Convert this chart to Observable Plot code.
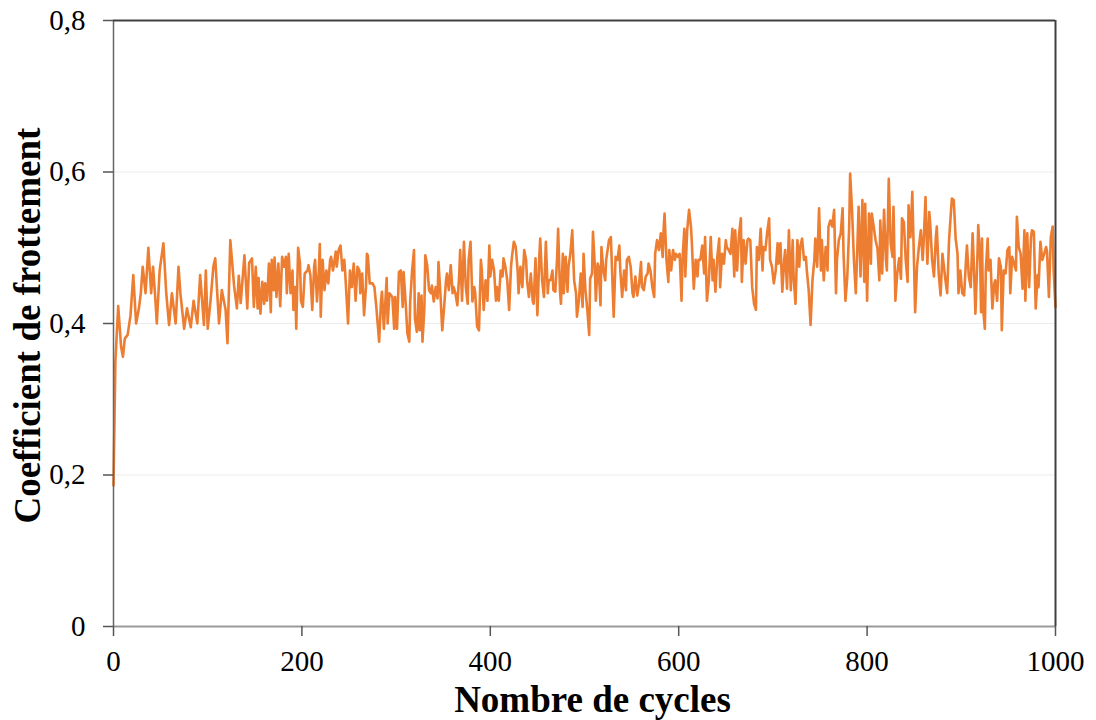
<!DOCTYPE html>
<html>
<head>
<meta charset="utf-8">
<script src="https://cdn.jsdelivr.net/npm/d3@7"></script>
<script src="https://cdn.jsdelivr.net/npm/@observablehq/plot@0.6"></script>
<style>
  html, body { margin: 0; padding: 0; background: #fff; }
  #chart svg { display: block; }
</style>
</head>
<body>
<div id="chart"></div>
<script>
// Data (cycle number, friction coefficient)
const cycles = [
  0,2,5,8,10,12,15,18,21,24,27,29,31,34,37,40,42,44,46,49,53,56,59,62,66,69,71,75,78,82,85,89,92,96,98,100,103,106,108,112,115,119,121,124,128,131,133,135,139,142,144,
  147,149,151,153,154,156,158,160,161,163,165,167,168,170,171,173,175,177,179,181,183,184,186,188,190,191,193,194,196,198,199,201,203,206,207,209,211,213,214,216,218,219,220,222,224,226,228,230,231,233,236,237,239,241,243,245,246,249,251,253,255,257,259,261,262,264,266,268,269,270,272,275,277,279,282,284,285,287,290,291,293,296,298,299,301,303,
  305,307,308,310,312,314,315,317,319,320,322,324,325,327,328,330,331,333,335,337,338,340,342,344,345,347,349,351,353,354,356,358,360,361,363,365,367,368,370,372,374,376,377,379,381,383,384,386,388,390,391,393,395,397,399,400,402,404,406,407,409,411,413,414,416,418,420,422,423,425,427,429,430,432,434,436,438,439,441,443,445,446,448,450,452,453,455,457,459,461,462,
  464,466,467,469,471,472,474,475,477,478,480,482,483,485,487,489,491,492,494,496,498,499,501,503,505,506,508,509,511,512,514,515,517,518,520,522,523,525,526,528,529,531,533,535,537,538,540,542,544,545,547,549,551,552,554,556,558,560,561,563,565,567,568,570,572,574,575,577,579,581,583,584,585,587,589,590,592,594,596,597,599,601,603,604,606,607,609,611,613,614,616,618,620,621,
  623,625,627,628,630,632,634,636,637,639,641,643,644,646,648,650,651,653,655,657,659,660,662,664,666,667,669,671,673,674,676,678,680,682,683,685,687,689,690,692,694,696,697,699,701,703,705,706,708,710,712,713,715,717,719,721,722,724,726,728,729,731,733,735,736,738,740,742,744,745,747,749,751,752,754,756,758,759,761,763,765,767,768,770,772,774,775,777,779,781,
  782,784,786,788,790,791,793,795,797,798,800,802,804,805,807,809,811,813,814,816,818,820,821,823,825,827,828,830,832,834,836,837,839,841,843,844,846,848,850,851,853,855,857,859,860,862,864,866,867,869,871,873,874,876,878,880,882,883,885,887,889,890,892,894,896,897,
  899,901,903,905,906,908,910,912,913,915,917,918,920,921,922,923,925,926,928,929,931,933,935,936,938,940,942,943,945,947,949,951,952,954,956,958,959,961,963,965,967,968,970,972,974,975,977,979,981,982,984,986,988,990,991,993,995,997,998,1000
];
const cof = [
  0.186,0.35,0.423,0.37,0.356,0.38,0.385,0.41,0.464,0.40,0.42,0.44,0.475,0.44,0.50,0.44,0.475,0.44,0.40,0.47,0.506,0.44,0.398,0.44,0.40,0.475,0.44,0.393,0.42,0.395,0.43,0.40,0.464,0.398,0.47,0.393,0.43,0.475,0.486,0.40,0.444,0.418,0.374,0.51,0.45,0.42,0.463,0.427,0.49,0.42,0.48,
  0.486,0.422,0.475,0.42,0.46,0.413,0.455,0.426,0.453,0.43,0.479,0.415,0.484,0.444,0.487,0.435,0.479,0.423,0.488,0.475,0.488,0.44,0.492,0.44,0.47,0.418,0.448,0.393,0.50,0.479,0.43,0.422,0.466,0.47,0.477,0.464,0.418,0.475,0.484,0.429,0.47,0.505,0.409,0.484,0.444,0.47,0.453,0.484,0.488,0.47,0.495,0.475,0.497,0.503,0.47,0.484,0.466,0.40,0.47,0.448,0.479,0.43,0.475,0.47,0.44,0.466,0.411,0.448,0.492,0.49,0.453,0.453,0.448,0.422,0.376,0.43,0.442,0.393,0.46,0.40,0.44,0.435,0.393,0.435,0.393,0.468,
  0.47,0.422,0.468,0.43,0.387,0.376,0.43,0.47,0.497,0.407,0.389,0.44,0.391,0.437,0.376,0.42,0.49,0.477,0.444,0.44,0.45,0.429,0.448,0.433,0.481,0.44,0.391,0.422,0.457,0.466,0.444,0.477,0.44,0.448,0.44,0.424,0.464,0.497,0.43,0.508,0.448,0.426,0.484,0.508,0.429,0.448,0.44,0.396,0.391,0.484,0.47,0.418,0.457,0.43,0.503,0.462,0.484,0.47,0.43,0.448,0.43,0.47,0.462,0.486,0.475,0.457,0.418,0.475,0.488,0.508,0.501,0.47,0.44,0.475,0.448,0.497,0.484,0.457,0.435,0.466,0.43,0.426,0.486,0.411,0.488,0.512,0.457,0.435,0.508,0.44,0.457,
  0.457,0.47,0.444,0.442,0.488,0.525,0.442,0.426,0.492,0.44,0.488,0.442,0.475,0.492,0.523,0.457,0.44,0.409,0.43,0.466,0.422,0.492,0.444,0.418,0.385,0.459,0.466,0.521,0.475,0.43,0.479,0.475,0.424,0.501,0.47,0.457,0.484,0.501,0.51,0.514,0.479,0.409,0.488,0.484,0.503,0.47,0.435,0.47,0.444,0.484,0.488,0.475,0.44,0.435,0.462,0.437,0.453,0.481,0.448,0.444,0.462,0.466,0.479,0.47,0.448,0.435,0.492,0.51,0.497,0.519,0.488,0.525,0.545,0.484,0.455,0.497,0.47,0.497,0.484,0.492,0.488,0.492,0.43,0.484,0.525,0.462,0.523,0.55,0.528,0.506,0.446,0.484,0.462,0.484,
  0.484,0.503,0.466,0.514,0.43,0.457,0.514,0.457,0.484,0.442,0.488,0.512,0.448,0.492,0.479,0.51,0.501,0.497,0.492,0.525,0.462,0.523,0.47,0.517,0.539,0.455,0.51,0.479,0.51,0.512,0.51,0.448,0.426,0.418,0.501,0.484,0.525,0.47,0.501,0.497,0.521,0.539,0.484,0.475,0.453,0.47,0.506,0.479,0.506,0.442,0.484,0.497,0.446,0.523,0.444,0.51,0.462,0.426,0.51,0.475,0.501,0.512,0.484,0.488,0.47,0.444,0.398,0.457,0.484,0.512,0.475,0.552,0.47,0.51,0.457,0.501,0.47,0.528,0.536,0.528,0.55,0.44,0.484,0.51,0.519,0.552,0.492,0.43,0.462,0.528,
  0.598,0.55,0.484,0.44,0.514,0.554,0.462,0.563,0.455,0.558,0.43,0.545,0.479,0.545,0.528,0.51,0.499,0.457,0.536,0.466,0.55,0.484,0.47,0.591,0.506,0.488,0.554,0.43,0.466,0.486,0.459,0.539,0.534,0.484,0.455,0.556,0.514,0.574,0.47,0.415,0.475,0.501,0.523,0.484,0.506,0.567,0.479,0.547,0.532,0.484,0.462,0.514,0.528,0.466,0.437,0.492,0.47,0.459,0.44,0.51,0.547,0.565,0.563,0.512,0.492,0.44,
  0.47,0.44,0.437,0.484,0.503,0.462,0.448,0.519,0.488,0.413,0.484,0.53,0.484,0.415,0.512,0.422,0.393,0.47,0.512,0.47,0.484,0.42,0.453,0.457,0.43,0.486,0.475,0.391,0.47,0.466,0.497,0.501,0.44,0.488,0.479,0.47,0.541,0.501,0.492,0.446,0.523,0.43,0.519,0.448,0.514,0.523,0.521,0.42,0.464,0.448,0.508,0.484,0.492,0.501,0.495,0.435,0.514,0.528,0.47,0.422
];
const xTicks = [0, 200, 400, 600, 800, 1000];
const yTicks = [0, 0.2, 0.4, 0.6, 0.8];
const gridY = [0.2, 0.4, 0.6];
const xTitle = "Nombre de cycles";
const yTitle = "Coefficient de frottement";

const data = cycles.map((c, i) => ({cycle: c, cof: cof[i]}));
const serif = "'Liberation Serif', 'DejaVu Serif', serif";
const fmtY = d => d === 0 ? "0" : d.toFixed(1).replace(".", ",");

const chart = Plot.plot({
  width: 1096,
  height: 720,
  marginLeft: 113,
  marginRight: 41,
  marginTop: 20,
  marginBottom: 94,
  style: {fontFamily: serif, background: "#fff", color: "#000"},
  x: {domain: [0, 1000]},
  y: {domain: [0, 0.8]},
  marks: [
    Plot.ruleY(gridY, {stroke: "#ececec", strokeWidth: 1}),
    Plot.lineY(data, {x: "cycle", y: "cof", stroke: "#ED7D31", strokeWidth: 2.6, strokeLinejoin: "round"}),
    Plot.ruleY([0], {stroke: "#9a9a9a", strokeWidth: 2}),
    Plot.ruleX([0], {stroke: "#666", strokeWidth: 1.5}),
    Plot.ruleX([1000], {stroke: "#404040", strokeWidth: 2}),
    Plot.ruleY([0.8], {stroke: "#404040", strokeWidth: 2}),
    Plot.axisY({ticks: yTicks, tickFormat: fmtY, tickSize: 10, tickPadding: 18, fontSize: 29, stroke: "#555", strokeWidth: 1.5, label: null, fontFamily: serif}),
    Plot.axisX({ticks: xTicks, tickFormat: d => String(d), tickSize: 10, tickPadding: 14, fontSize: 29, stroke: "#555", strokeWidth: 1.5, label: null, fontFamily: serif}),
    Plot.text([xTitle], {frameAnchor: "bottom", dx: 8, dy: 74, text: d => d, textAnchor: "middle", fontSize: 37, fontWeight: "bold", fontFamily: serif, lineAnchor: "middle", fill: "#000"}),
    Plot.text([yTitle], {frameAnchor: "left", dx: -85, dy: 2, rotate: -90, text: d => d, textAnchor: "middle", fontSize: 37, fontWeight: "bold", fontFamily: serif, lineAnchor: "middle", fill: "#000"})
  ]
});
document.getElementById("chart").appendChild(chart);
</script>
</body>
</html>
